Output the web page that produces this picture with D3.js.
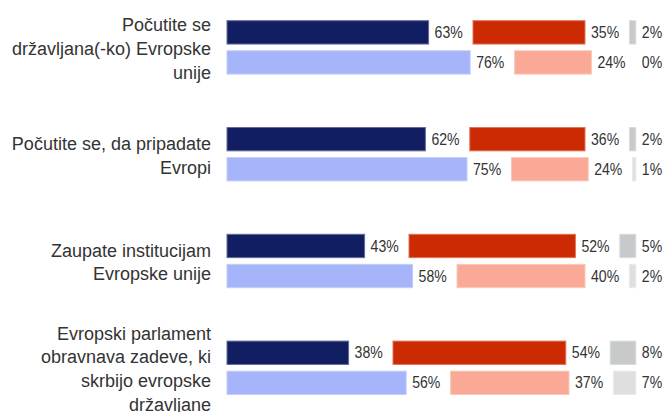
<!DOCTYPE html>
<html>
<head>
<meta charset="utf-8">
<script src="https://cdn.jsdelivr.net/npm/d3@7"></script>
<style>
  html, body { margin: 0; padding: 0; background: #ffffff; }
  svg { display: block; }
</style>
</head>
<body>
<svg id="chart" width="666" height="412"></svg>
<script>
// ---- data ----
const categories = [
  ["Počutite se", "državljana(-ko) Evropske", "unije"],
  ["Počutite se, da pripadate", "Evropi"],
  ["Zaupate institucijam", "Evropske unije"],
  ["Evropski parlament", "obravnava zadeve, ki", "skrbijo evropske", "državljane"]
];
const rows = ["dark", "light"];
const yesValues  = { dark: [63, 62, 43, 38], light: [76, 75, 58, 56] };
const noValues   = { dark: [35, 36, 52, 54], light: [24, 24, 40, 37] };
const dkValues   = { dark: [2, 2, 5, 8],     light: [0, 1, 2, 7] };
const colors = {
  yes: { dark: "#111e62", light: "#a6b4f9" },
  no:  { dark: "#cc2a02", light: "#faa996" },
  dk:  { dark: "#c8c9cb", light: "#dfdfdf" }
};

// ---- layout ----
const svg = d3.select("#chart");
const x0 = 227, gap = 44.4;
const x = d3.scaleLinear().domain([0, 100]).range([0, 320]);
const keys = categories.map((c, i) => i);
const y = d3.scaleBand().domain(keys).range([20.7, 394.5]).paddingInner(0.5).paddingOuter(0);
const ySub = d3.scaleBand().domain(rows).range([0, y.bandwidth()]).paddingInner(0.2233).paddingOuter(0);

const font = "Arial, 'Liberation Sans', sans-serif";
const textColor = "#333333";

// category labels
const labelG = svg.append("g");
keys.forEach(i => {
  const lines = categories[i];
  const cy = y(i) + y.bandwidth() / 2;
  const lh = 23.7;
  const t = labelG.append("text")
    .attr("text-anchor", "end")
    .attr("font-family", font)
    .attr("font-size", 18)
    .attr("fill", textColor);
  lines.forEach((ln, j) => {
    t.append("tspan")
      .attr("x", 211)
      .attr("y", cy + (j - (lines.length - 1) / 2) * lh + 7.5)
      .text(ln);
  });
});

// bars
const segs = [];
keys.forEach(i => {
  rows.forEach(r => {
    const yv = yesValues[r][i], nv = noValues[r][i], dv = dkValues[r][i];
    segs.push({ i, r, key: "yes", start: x0 + x(0), w: x(yv) - x(0), v: yv });
    segs.push({ i, r, key: "no", start: x0 + x(yv) + gap, w: x(nv) - x(0), v: nv });
    segs.push({ i, r, key: "dk", start: x0 + x(yv + nv) + 2 * gap, w: x(dv) - x(0), v: dv });
  });
});

const barG = svg.append("g");
barG.selectAll("rect").data(segs).join("rect")
  .attr("x", d => d.start)
  .attr("y", d => y(d.i) + ySub(d.r))
  .attr("width", d => Math.max(d.w, 0))
  .attr("height", ySub.bandwidth())
  .attr("fill", d => colors[d.key][d.r])
  .attr("stroke", d => d3.interpolateRgb(colors[d.key][d.r], "#ffffff")(0.35))
  .attr("stroke-width", 1);

barG.selectAll("text").data(segs).join("text")
  .attr("transform", d => `translate(${d.start + d.w + 6},${y(d.i) + ySub(d.r) + ySub.bandwidth() / 2 + 5.6}) scale(0.88,1)`)
  .attr("font-family", font)
  .attr("font-size", 16)
  .attr("fill", textColor)
  .text(d => d.v + "%");
</script>
</body>
</html>
